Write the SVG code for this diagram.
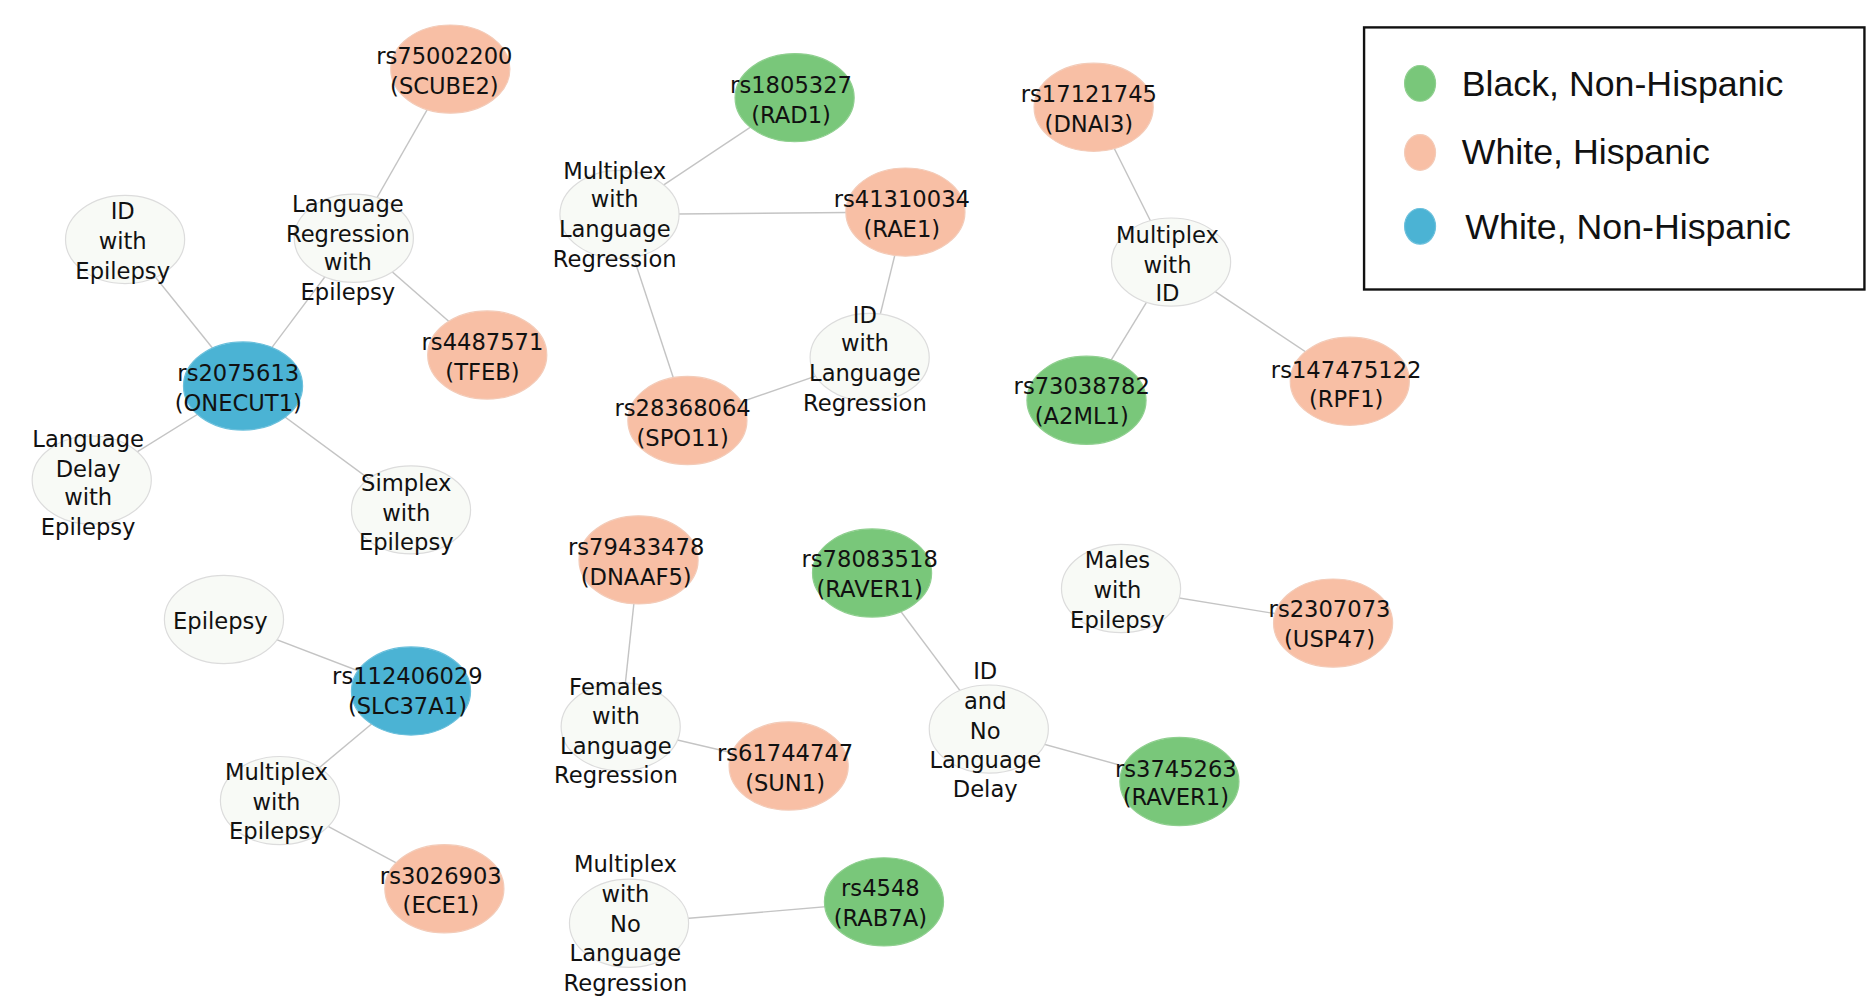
<svg xmlns="http://www.w3.org/2000/svg" width="1868" height="997" viewBox="0 0 1868 997">
<style>
.e line{stroke:#c4c4c4;stroke-width:1.2}
.g{fill:#79c77a;stroke:#8fcf8f}
.p{fill:#f8bfa5;stroke:#f3cbb8}
.b{fill:#4bb3d4;stroke:#6cc0dc}
.w{fill:#f8faf6;stroke:#dcdcdc}
text{font-family:"DejaVu Sans","Liberation Sans",sans-serif;font-size:19px;fill:#111;text-anchor:middle}
.lg{font-size:30px;text-anchor:start;font-family:"Liberation Sans",sans-serif}
</style>
<rect width="1868" height="997" fill="#fff"/>
<g transform="scale(1.19133)">
<g id="legend">
<rect x="1145" y="23" width="420" height="220" fill="#fff" stroke="#111" stroke-width="2"/>
<ellipse cx="1192" cy="70" rx="13" ry="15" class="g"/>
<ellipse cx="1192" cy="128" rx="13" ry="15" class="p"/>
<ellipse cx="1192" cy="190" rx="13" ry="15" class="b"/>
<text class="lg" x="1227" y="81">Black, Non-Hispanic</text>
<text class="lg" x="1227" y="138">White, Hispanic</text>
<text class="lg" x="1230" y="201">White, Non-Hispanic</text>
</g>
<g id="edges" class="e">
<line x1="378" y1="58" x2="297" y2="200"/>
<line x1="297" y1="200" x2="409" y2="298"/>
<line x1="297" y1="200" x2="204" y2="324"/>
<line x1="105" y1="201" x2="204" y2="324"/>
<line x1="204" y1="324" x2="77" y2="403"/>
<line x1="204" y1="324" x2="345" y2="428"/>
<line x1="667" y1="82" x2="520" y2="180"/>
<line x1="520" y1="180" x2="760" y2="178"/>
<line x1="520" y1="180" x2="577" y2="353"/>
<line x1="577" y1="353" x2="730" y2="300"/>
<line x1="730" y1="300" x2="760" y2="178"/>
<line x1="918" y1="90" x2="983" y2="220"/>
<line x1="983" y1="220" x2="912" y2="336"/>
<line x1="983" y1="220" x2="1133" y2="320"/>
<line x1="536" y1="470" x2="521" y2="610"/>
<line x1="521" y1="610" x2="662" y2="643"/>
<line x1="732" y1="481" x2="830" y2="612"/>
<line x1="830" y1="612" x2="990" y2="656"/>
<line x1="941" y1="494" x2="1119" y2="523"/>
<line x1="188" y1="520" x2="345" y2="580"/>
<line x1="345" y1="580" x2="235" y2="672"/>
<line x1="235" y1="672" x2="373" y2="746"/>
<line x1="528" y1="775" x2="742" y2="757"/>
</g>
<g id="n_scube2"><ellipse cx="378" cy="58" rx="50" ry="37" class="p"/><text x="373" y="54">rs75002200</text><text x="373" y="79">(SCUBE2)</text></g>
<g id="n_lre"><ellipse cx="297" cy="200" rx="50" ry="37" class="w"/><text x="292" y="178">Language</text><text x="292" y="203">Regression</text><text x="292" y="227">with</text><text x="292" y="252">Epilepsy</text></g>
<g id="n_ide"><ellipse cx="105" cy="201" rx="50" ry="37" class="w"/><text x="103" y="184">ID</text><text x="103" y="209">with</text><text x="103" y="234">Epilepsy</text></g>
<g id="n_onecut1"><ellipse cx="204" cy="324" rx="50" ry="37" class="b"/><text x="200" y="320">rs2075613</text><text x="200" y="345">(ONECUT1)</text></g>
<g id="n_tfeb"><ellipse cx="409" cy="298" rx="50" ry="37" class="p"/><text x="405" y="294">rs4487571</text><text x="405" y="319">(TFEB)</text></g>
<g id="n_lde"><ellipse cx="77" cy="403" rx="50" ry="37" class="w"/><text x="74" y="375">Language</text><text x="74" y="400">Delay</text><text x="74" y="424">with</text><text x="74" y="449">Epilepsy</text></g>
<g id="n_simplex"><ellipse cx="345" cy="428" rx="50" ry="37" class="w"/><text x="341" y="412">Simplex</text><text x="341" y="437">with</text><text x="341" y="462">Epilepsy</text></g>
<g id="n_rad1"><ellipse cx="667" cy="82" rx="50" ry="37" class="g"/><text x="664" y="78">rs1805327</text><text x="664" y="103">(RAD1)</text></g>
<g id="n_mlr"><ellipse cx="520" cy="180" rx="50" ry="37" class="w"/><text x="516" y="150">Multiplex</text><text x="516" y="174">with</text><text x="516" y="199">Language</text><text x="516" y="224">Regression</text></g>
<g id="n_rae1"><ellipse cx="760" cy="178" rx="50" ry="37" class="p"/><text x="757" y="174">rs41310034</text><text x="757" y="199">(RAE1)</text></g>
<g id="n_idlr"><ellipse cx="730" cy="300" rx="50" ry="37" class="w"/><text x="726" y="271">ID</text><text x="726" y="295">with</text><text x="726" y="320">Language</text><text x="726" y="345">Regression</text></g>
<g id="n_spo11"><ellipse cx="577" cy="353" rx="50" ry="37" class="p"/><text x="573" y="349">rs28368064</text><text x="573" y="374">(SPO11)</text></g>
<g id="n_dnai3"><ellipse cx="918" cy="90" rx="50" ry="37" class="p"/><text x="914" y="86">rs17121745</text><text x="914" y="111">(DNAI3)</text></g>
<g id="n_mid"><ellipse cx="983" cy="220" rx="50" ry="37" class="w"/><text x="980" y="204">Multiplex</text><text x="980" y="229">with</text><text x="980" y="253">ID</text></g>
<g id="n_a2ml1"><ellipse cx="912" cy="336" rx="50" ry="37" class="g"/><text x="908" y="331">rs73038782</text><text x="908" y="356">(A2ML1)</text></g>
<g id="n_rpf1"><ellipse cx="1133" cy="320" rx="50" ry="37" class="p"/><text x="1130" y="317">rs147475122</text><text x="1130" y="342">(RPF1)</text></g>
<g id="n_dnaaf5"><ellipse cx="536" cy="470" rx="50" ry="37" class="p"/><text x="534" y="466">rs79433478</text><text x="534" y="491">(DNAAF5)</text></g>
<g id="n_raver1a"><ellipse cx="732" cy="481" rx="50" ry="37" class="g"/><text x="730" y="476">rs78083518</text><text x="730" y="501">(RAVER1)</text></g>
<g id="n_males"><ellipse cx="941" cy="494" rx="50" ry="37" class="w"/><text x="938" y="477">Males</text><text x="938" y="502">with</text><text x="938" y="527">Epilepsy</text></g>
<g id="n_usp47"><ellipse cx="1119" cy="523" rx="50" ry="37" class="p"/><text x="1116" y="518">rs2307073</text><text x="1116" y="543">(USP47)</text></g>
<g id="n_epi"><ellipse cx="188" cy="520" rx="50" ry="37" class="w"/><text x="185" y="528">Epilepsy</text></g>
<g id="n_slc37a1"><ellipse cx="345" cy="580" rx="50" ry="37" class="b"/><text x="342" y="574">rs112406029</text><text x="342" y="599">(SLC37A1)</text></g>
<g id="n_flr"><ellipse cx="521" cy="610" rx="50" ry="37" class="w"/><text x="517" y="583">Females</text><text x="517" y="608">with</text><text x="517" y="633">Language</text><text x="517" y="657">Regression</text></g>
<g id="n_sun1"><ellipse cx="662" cy="643" rx="50" ry="37" class="p"/><text x="659" y="639">rs61744747</text><text x="659" y="664">(SUN1)</text></g>
<g id="n_idnld"><ellipse cx="830" cy="612" rx="50" ry="37" class="w"/><text x="827" y="570">ID</text><text x="827" y="595">and</text><text x="827" y="620">No</text><text x="827" y="645">Language</text><text x="827" y="669">Delay</text></g>
<g id="n_raver1b"><ellipse cx="990" cy="656" rx="50" ry="37" class="g"/><text x="987" y="652">rs3745263</text><text x="987" y="676">(RAVER1)</text></g>
<g id="n_mepi"><ellipse cx="235" cy="672" rx="50" ry="37" class="w"/><text x="232" y="655">Multiplex</text><text x="232" y="680">with</text><text x="232" y="704">Epilepsy</text></g>
<g id="n_ece1"><ellipse cx="373" cy="746" rx="50" ry="37" class="p"/><text x="370" y="742">rs3026903</text><text x="370" y="766">(ECE1)</text></g>
<g id="n_mnlr"><ellipse cx="528" cy="775" rx="50" ry="37" class="w"/><text x="525" y="732">Multiplex</text><text x="525" y="757">with</text><text x="525" y="782">No</text><text x="525" y="807">Language</text><text x="525" y="832">Regression</text></g>
<g id="n_rab7a"><ellipse cx="742" cy="757" rx="50" ry="37" class="g"/><text x="739" y="752">rs4548</text><text x="739" y="777">(RAB7A)</text></g>
</g>
</svg>
